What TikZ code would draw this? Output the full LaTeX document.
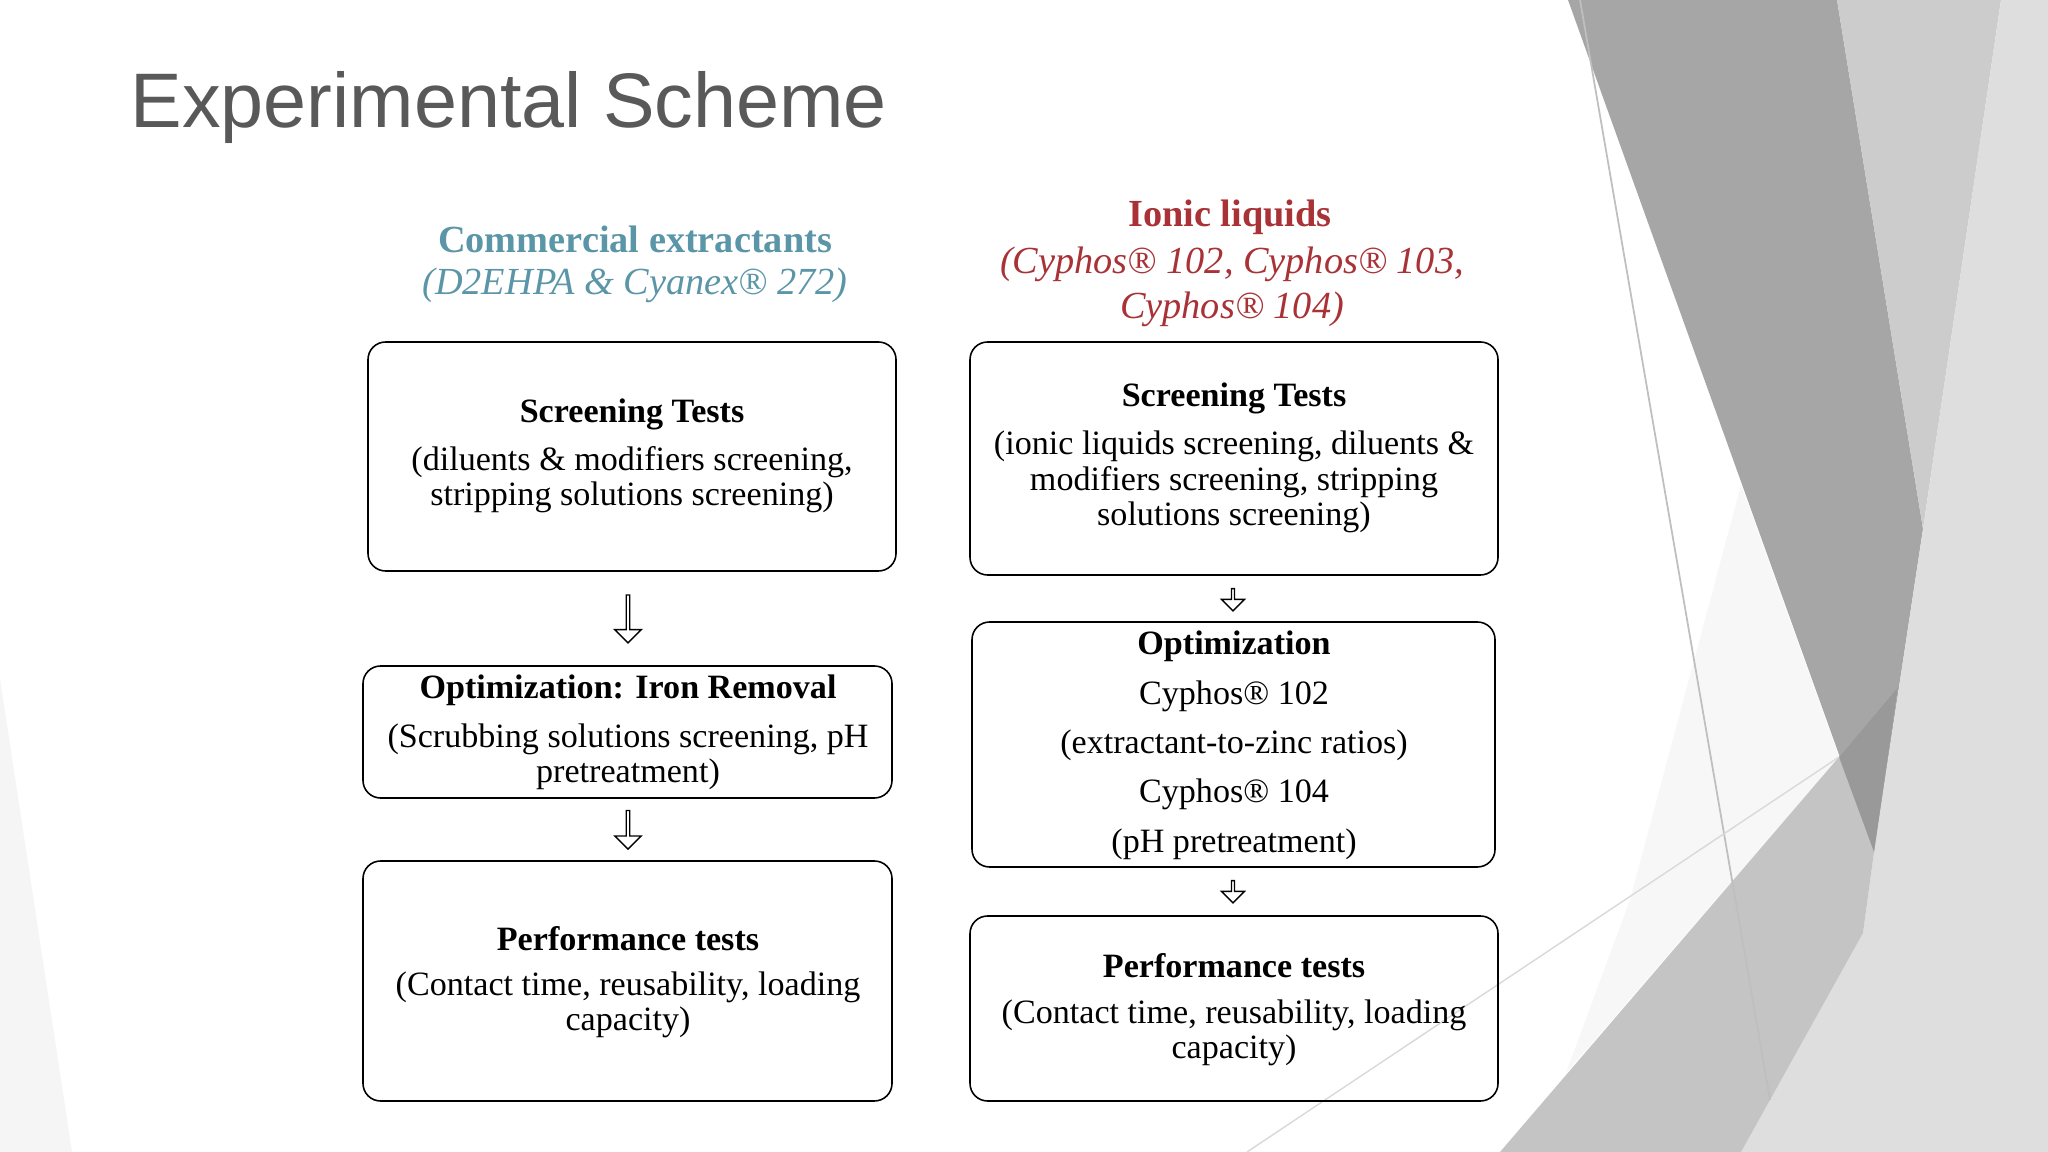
\documentclass[tikz,border=0pt]{standalone}
\usepackage{fontspec}
\setmainfont{Liberation Serif}
\newfontfamily\titlefont{Liberation Sans}
\usetikzlibrary{shapes.arrows}
\definecolor{teal}{HTML}{5B96A8}
\definecolor{ilred}{HTML}{A83236}
\definecolor{titlegray}{HTML}{595959}
\begin{document}
\begin{tikzpicture}[x=0.1mm,y=-0.1mm,
  box/.style={draw,line width=0.45pt,rounded corners=5pt},
  hd/.style={font=\fontsize{9.7}{10}\selectfont\bfseries,inner sep=0pt},
  bt/.style={font=\fontsize{9.7}{10}\selectfont,align=center,inner sep=0pt},
  darr/.style={single arrow,draw,line width=0.4pt,shape border rotate=270,inner sep=0pt,minimum width=#1,single arrow head extend=1.3pt},
]
\useasboundingbox (0,0) rectangle (2048,1152);
\fill[white] (0,0) rectangle (2048,1152);
% background facets
\fill[gray!8] (0,679) -- (72,1152) -- (0,1152) -- cycle;
\fill[black!3] (1741,485) -- (1839,757) -- (1566,1073) -- (1630,900) -- cycle;
\fill[black!35] (1568,0) -- (1837,0) -- (1923,529) -- (1874,852) -- cycle;
\fill[black!20] (1837,0) -- (2001,0) -- (1923,529) -- cycle;
\fill[black!13] (2001,0) -- (2048,0) -- (2048,1152) -- (1741,1152) -- (1863,933) -- (1874,852) -- (1923,529) -- cycle;
\fill[black!23] (1500,1152) -- (1839,757) -- (1898,687) -- (1874,852) -- (1863,933) -- (1741,1152) -- cycle;
\fill[black!40] (1839,757) -- (1898,687) -- (1874,852) -- cycle;
\draw[black!25,line width=0.5pt] (1580,0) -- (1770,1100);
\draw[black!15,line width=0.4pt] (1247,1152) -- (1839,757);
% title
\node[font=\titlefont\fontsize{22}{26}\selectfont,text=titlegray,anchor=west,inner sep=0pt] (title) at (130,108) {Experimental Scheme};
% headers
\node[font=\fontsize{10.9}{12}\selectfont\bfseries,text=teal,inner sep=0pt] (lh1) at (635,239) {Commercial extractants};
\node[font=\fontsize{10.9}{12}\selectfont\itshape,text=teal,inner sep=0pt] (lh2) at (635,285) {(D2EHPA \& Cyanex® 272)};
\node[font=\fontsize{10.9}{12}\selectfont\bfseries,text=ilred,inner sep=0pt] (rh1) at (1230,217) {Ionic liquids};
\node[font=\fontsize{10.9}{12.9}\selectfont\itshape,text=ilred,align=center,inner sep=0pt] (rh2) at (1232,287) {(Cyphos® 102, Cyphos® 103,\\Cyphos® 104)};
% boxes
\draw[box] (368,342) rectangle (896,571);
\draw[box] (970,342) rectangle (1498,575);
\draw[box] (363,666) rectangle (892,798);
\draw[box] (972,622) rectangle (1495,867);
\draw[box] (363,861) rectangle (892,1101);
\draw[box] (970,916) rectangle (1498,1101);
% texts
\node[hd] (l1t) at (632,414) {Screening Tests};
\node[bt] (l1d) at (632,480) {(diluents \& modifiers screening,\\stripping solutions screening)};
\node[hd] (r1t) at (1234,398) {Screening Tests};
\node[bt] (r1d) at (1234,482) {(ionic liquids screening, diluents \&\\modifiers screening, stripping\\solutions screening)};
\node[hd] (l2t) at (628,690) {Optimization: Iron Removal};
\node[bt] (l2d) at (628,757) {(Scrubbing solutions screening, pH\\pretreatment)};
\node[hd] (r2t) at (1234,646) {Optimization};
\node[bt,font=\fontsize{9.7}{14}\selectfont] (r2d) at (1234,770) {Cyphos® 102\\(extractant-to-zinc ratios)\\Cyphos® 104\\(pH pretreatment)};
\node[hd] (l3t) at (628,939) {Performance tests};
\node[bt] (l3d) at (628,1005) {(Contact time, reusability, loading\\capacity)};
\node[hd] (r3t) at (1234,966) {Performance tests};
\node[bt] (r3d) at (1234,1033) {(Contact time, reusability, loading\\capacity)};
% arrows
\node[darr=7.5pt,minimum height=13.6pt] (a1) at (628,618) {};
\node[darr=7.5pt,minimum height=11pt] (a2) at (628,829) {};
\node[darr=6.5pt,minimum height=6.3pt] (a3) at (1233,599) {};
\node[darr=6.5pt,minimum height=6.3pt] (a4) at (1233,891) {};
\end{tikzpicture}
\end{document}
